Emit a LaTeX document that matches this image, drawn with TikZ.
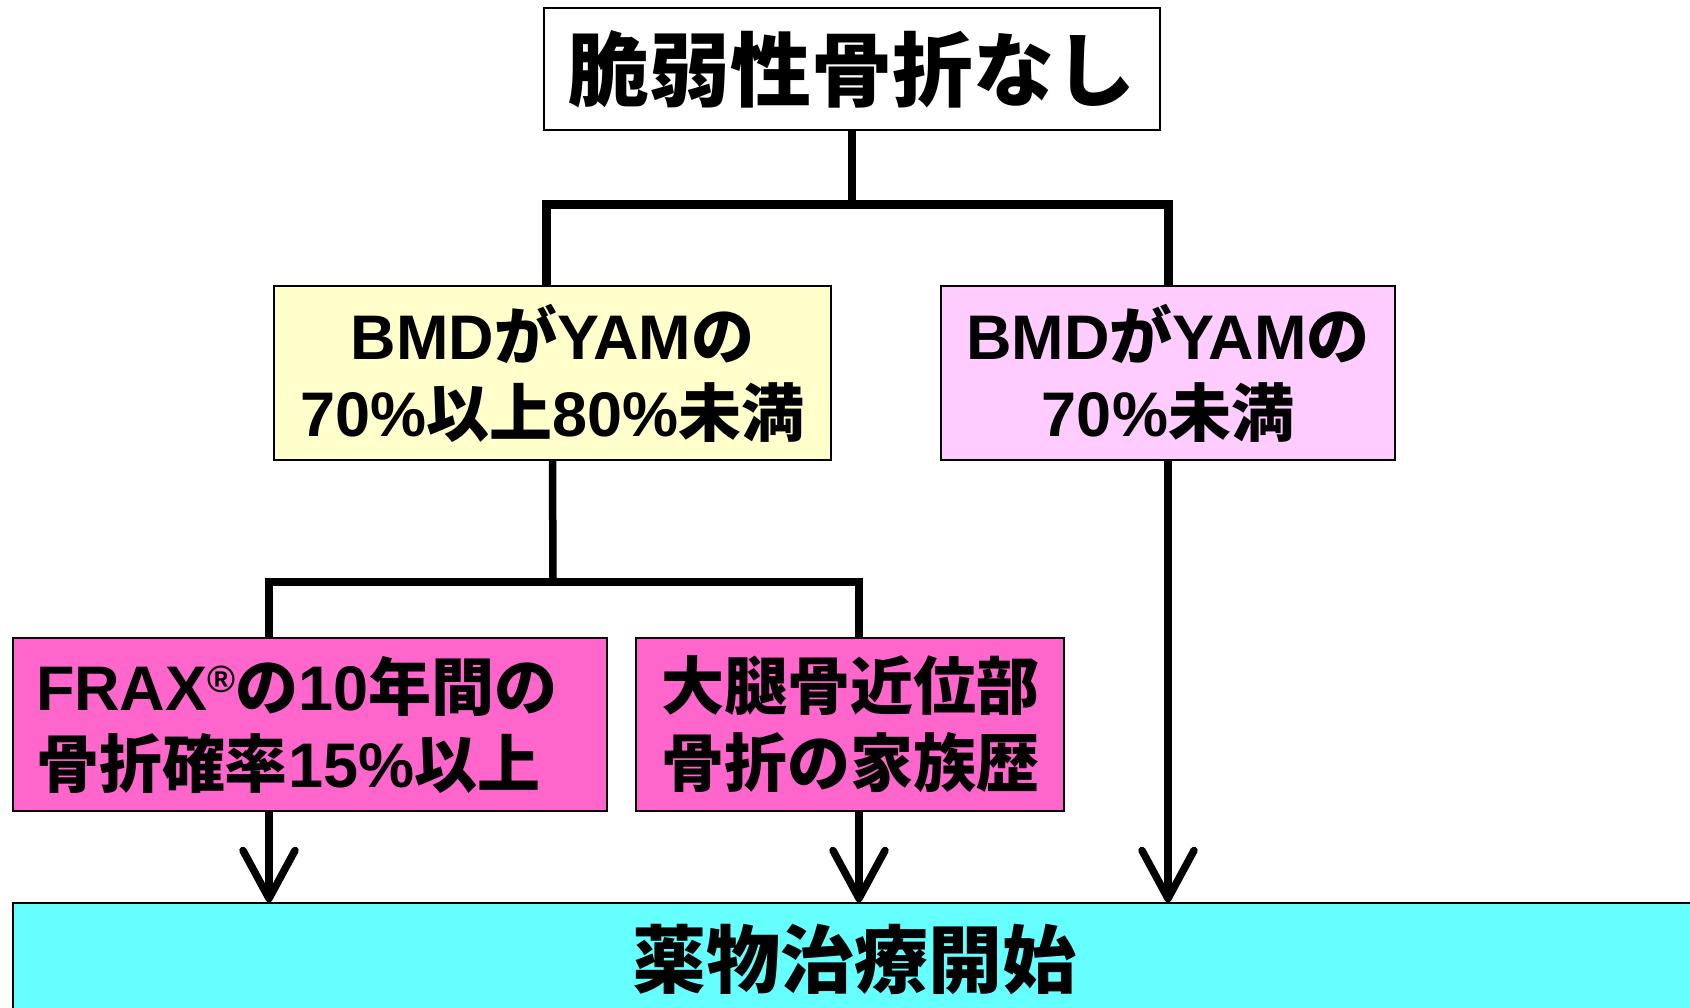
\documentclass[tikz,border=0pt]{standalone}
\usepackage{fontspec}
\setmainfont{Liberation Sans}
\newfontfamily\jp{Noto Sans CJK JP}
\usetikzlibrary{arrows.meta,calc}
\newcommand\J[1]{{\jp\bfseries #1}}
\definecolor{yel}{HTML}{FFFFCC}
\definecolor{lpink}{HTML}{FFCCFF}
\definecolor{mpink}{HTML}{FF66CC}
\definecolor{cyn}{HTML}{66FFFF}
\begin{document}
\begin{tikzpicture}[x=1pt,y=-1pt,
  box/.style={draw=black, line width=1.5pt, inner sep=0pt, align=center},
  txt/.style={font=\fontsize{63}{77}\selectfont\bfseries},
  conn/.style={line width=7.5pt},
  arr/.style={line width=7.5pt, -{Straight Barb[round,length=48pt,width=52pt]}}]
\useasboundingbox (0,0) rectangle (1690,1008);
\clip (0,0) rectangle (1690,1008);
\fill[white] (0,0) rectangle (1690,1008);
% nodes
\node[box, fill=white, minimum width=616pt, minimum height=122pt,
  font=\fontsize{81}{81}\selectfont] (top) at (852,69) {\J{脆弱性骨折なし}};
\node[box, txt, fill=yel, minimum width=557pt, minimum height=174pt] (yellow) at (552.5,373)
  {BMD\J{が}YAM\J{の}\\70\%\J{以上}80\%\J{未満}};
\node[box, txt, fill=lpink, minimum width=454pt, minimum height=174pt] (pink) at (1168,373)
  {BMD\J{が}YAM\J{の}\\70\%\J{未満}};
\node[box, txt, fill=mpink, text width=548pt, inner xsep=23pt, align=left,
  minimum height=173pt] (frax) at (310,724.5)
  {FRAX\raisebox{18pt}{\fontsize{38}{38}\selectfont ®}\J{の}10\J{年間の}\\\J{骨折確率}15\%\J{以上}};
\node[box, txt, fill=mpink, minimum width=428pt, minimum height=173pt] (daitai) at (850,724.5)
  {\J{大腿骨近位部}\\\J{骨折の家族歴}};
\node[box, fill=cyn, minimum width=1682pt, minimum height=112pt,
  font=\fontsize{74}{74}\selectfont] (bot) at (854,959) {\J{薬物治療開始}};
% connectors
\coordinate (j1) at (852,205);
\coordinate (ya) at ($(yellow.north)+(-6,0)$);
\draw[conn] (top.south) -- (j1);
\draw[conn, line width=9pt] (ya) |- (j1) -| (pink.north);
\coordinate (j2) at (553,582);
\coordinate (fa) at ($(frax.north)+(-41,0)$);
\coordinate (da) at ($(daitai.north)+(9,0)$);
\draw[conn] (yellow.south) -- (j2);
\draw[conn] (fa) |- (j2) -| (da);
\draw[arr] (frax.south -| fa) -- (fa |- bot.north);
\draw[arr] (daitai.south -| da) -- (da |- bot.north);
\draw[arr] (pink.south) -- (pink.south |- bot.north);
\end{tikzpicture}
\end{document}
